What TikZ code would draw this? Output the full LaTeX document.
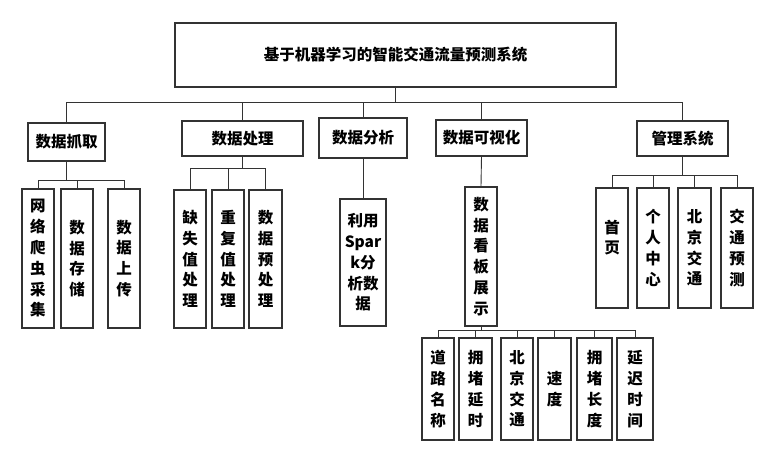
\documentclass[tikz,border=0pt]{standalone}
\usepackage{fontspec}
\newfontfamily\cjk{Noto Sans CJK SC}
\tikzset{
  box/.style={draw=black!80, line width=1.1pt, inner sep=0pt, align=center,
    font=\cjk\bfseries\fontsize{15.5}{20.8}\selectfont},
  wire/.style={draw=black!80, line width=0.9pt}
}
% \bx{name}{x1}{y1}{x2}{y2}{text}
\newcommand{\bx}[6]{%
  \pgfmathsetmacro{\bw}{#4-#2}\pgfmathsetmacro{\bh}{#5-#3}%
  \node[box, minimum width=\bw pt, minimum height=\bh pt] (#1) at ({(#2+#4)/2},{(#3+#5)/2}) {#6};}
\begin{document}
\begin{tikzpicture}[x=1pt,y=-1pt]
\useasboundingbox (0,0) rectangle (772,460);
% title
\bx{t}{175}{23}{616}{87}{基于机器学习的智能交通流量预测系统}
% level 1
\bx{a1}{28}{123}{105}{161}{数据抓取}
\bx{a2}{182}{121}{303}{156}{数据处理}
\bx{a3}{319}{118}{407}{158}{数据分析}
\bx{a4}{436}{120}{527}{156}{数据可视化}
\bx{a5}{637}{121}{728}{156}{管理系统}
% children of a1
\bx{b11}{22}{189}{54}{328}{网\\络\\爬\\虫\\采\\集}
\bx{b12}{61}{189}{93}{328}{数\\据\\存\\储}
\bx{b13}{108}{189}{140}{328}{数\\据\\上\\传}
% children of a2
\bx{b21}{174}{190}{206}{328}{缺\\失\\值\\处\\理}
\bx{b22}{212}{190}{244}{328}{重\\复\\值\\处\\理}
\bx{b23}{249}{190}{282}{328}{数\\据\\预\\处\\理}
% child of a3
\bx{b31}{340}{199}{386}{326}{利用\\Spar\\k分\\析数\\据}
% child of a4
\bx{b41}{465}{187}{497}{326}{数\\据\\看\\板\\展\\示}
\bx{c1}{422}{338}{454}{440}{道\\路\\名\\称}
\bx{c2}{459}{338}{492}{440}{拥\\堵\\延\\时}
\bx{c3}{501}{338}{533}{440}{北\\京\\交\\通}
\bx{c4}{538}{338}{571}{440}{速\\度}
\bx{c5}{577}{338}{612}{440}{拥\\堵\\长\\度}
\bx{c6}{617}{338}{653}{440}{延\\迟\\时\\间}
% children of a5
\bx{b51}{596}{188}{628}{308}{首\\页\\\vphantom{首}}
\bx{b52}{637}{188}{669}{308}{个\\人\\中\\心}
\bx{b53}{678}{188}{711}{308}{北\\京\\交\\通}
\bx{b54}{721}{188}{753}{308}{交\\通\\预\\测}
% bus coordinates
\coordinate (s0) at (0,102);
\coordinate (s1) at (0,180);
\coordinate (s2) at (0,168);
\coordinate (s4) at (0,330);
\coordinate (s5) at (0,175);
% main bus
\draw[wire] (t.south) -- (t.south |- s0);
\draw[wire] (a1.north |- s0) -- (a5.north |- s0);
\foreach \n in {a1,a2,a3,a4,a5} \draw[wire] (\n.north) -- (\n.north |- s0);
% a1 group
\draw[wire] (a1.south) -- (a1.south |- s1);
\draw[wire] (b11.north |- s1) -- (b13.north |- s1);
\foreach \n in {b11,b12,b13} \draw[wire] (\n.north) -- (\n.north |- s1);
% a2 group
\draw[wire] (a2.south) -- (a2.south |- s2);
\draw[wire] (b21.north |- s2) -- (b23.north |- s2);
\foreach \n in {b21,b22,b23} \draw[wire] (\n.north) -- (\n.north |- s2);
% a3
\draw[wire] (a3.south) -- (b31.north);
% a4
\draw[wire] (a4.south) -- (b41.north);
\draw[wire] (b41.south) -- (b41.south |- s4);
\draw[wire] (c1.north |- s4) -- (c6.north |- s4);
\foreach \n in {c1,c2,c3,c4,c5,c6} \draw[wire] (\n.north) -- (\n.north |- s4);
% a5 group
\draw[wire] (a5.south) -- (a5.south |- s5);
\draw[wire] (b51.north |- s5) -- (b54.north |- s5);
\foreach \n in {b51,b52,b53,b54} \draw[wire] (\n.north) -- (\n.north |- s5);
\end{tikzpicture}
\end{document}
